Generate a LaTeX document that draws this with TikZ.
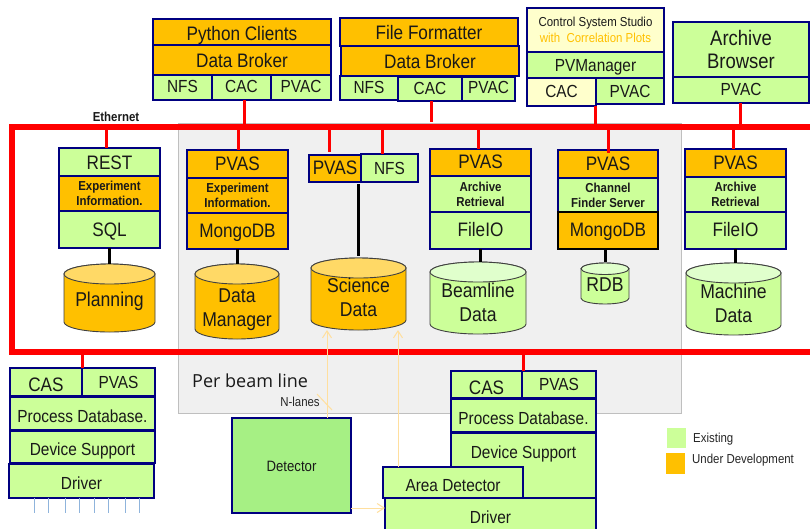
\documentclass[tikz,border=0pt]{standalone}
\usepackage{fontspec}
\setmainfont[FakeStretch=0.88]{Liberation Sans}
\newfontfamily\perfont{Open Sans}
\usetikzlibrary{arrows.meta}
\definecolor{grn}{HTML}{CCFF99}
\definecolor{org}{HTML}{FFC000}
\definecolor{navy}{HTML}{000080}
\definecolor{cream}{HTML}{FFFFCC}
\definecolor{det}{HTML}{A6F084}
\definecolor{orgtop}{HTML}{FFD966}
\definecolor{grntop}{HTML}{E0FFCC}
\definecolor{pale}{HTML}{FFDF9E}
\definecolor{busred}{HTML}{FF0000}
\definecolor{tick}{HTML}{8FB4DC}
\tikzset{
  bx/.style={draw=navy,line width=1.7pt,inner sep=0pt,outer sep=0pt,align=center,text=black!90},
  cyltext/.style={inner sep=0pt,outer sep=0pt,align=center,text=black!90},
  bus/.style={draw=busred,line width=6pt},
  drop/.style={draw=busred,line width=3pt},
  blk/.style={draw=black,line width=3pt},
  fine/.style={draw=pale,line width=1pt},
  finear/.style={fine,-{Straight Barb[length=7pt,width=9pt]}},
  tk/.style={draw=tick,line width=0.9pt},
  sA/.style={font=\fontsize{19.5}{23}\selectfont},
  sC/.style={font=\fontsize{17.5}{20}\selectfont},
  sD/.style={font=\bfseries\fontsize{13}{15}\selectfont},
  sE/.style={font=\fontsize{20}{24}\selectfont},
  lbl/.style={anchor=west,font=\fontsize{13}{15}\selectfont,text=black!85,inner sep=0pt},
}
% centre a line of text on its capitals, with an optional shift
\newcommand{\ct}[2]{\raisebox{\dimexpr-0.7ex-#1pt\relax}[0pt][0pt]{#2}}
% [shift], name, x0, y0, x1, y1, options, text (one line)
\newcommand{\bxx}[8][0]{%
  \pgfmathsetmacro{\bw}{#5-#3}\pgfmathsetmacro{\bh}{#6-#4}%
  \node[bx,#7,minimum width=\bw pt,minimum height=\bh pt] (#2) at ({(#3+#5)/2},{(#4+#6)/2}) {\ct{#1}{#8}};}
% name, x0, y0, x1, y1, options, text (several lines)
\newcommand{\bxm}[7]{%
  \pgfmathsetmacro{\bw}{#4-#2}\pgfmathsetmacro{\bh}{#5-#3}%
  \node[bx,#6,minimum width=\bw pt,minimum height=\bh pt] (#1) at ({(#2+#4)/2},{(#3+#5)/2}) {#7};}
% [text shift], name, x0, y0, x1, y1, body colour, top colour, text
\newcommand{\cyl}[9][4]{%
  \pgfmathsetmacro{\cx}{(#3+#5)/2}\pgfmathsetmacro{\rx}{(#5-#3)/2}%
  \pgfmathsetmacro{\ry}{min(10,\rx*0.24)}%
  \path[draw=black!75,line width=0.9pt,fill=#7]
    (#3,#4+\ry) -- (#3,#6-\ry) arc[start angle=180,end angle=360,x radius=\rx pt,y radius=\ry pt]
    -- (#5,#4+\ry) arc[start angle=0,end angle=180,x radius=\rx pt,y radius=\ry pt] -- cycle;
  \path[draw=black!75,line width=0.9pt,fill=#8] (\cx,#4+\ry) ellipse[x radius=\rx pt,y radius=\ry pt];
  \node[cyltext,sE] (#2) at (\cx,{(#4+#6)/2+#1}) {#9};}
\begin{document}
\begin{tikzpicture}[x=1pt,y=-1pt]
\clip (0,0) rectangle (810,528);
\fill[white] (0,0) rectangle (810,528);
% grey region
\node[draw=black!25,line width=0.8pt,fill=black!6,minimum width=503pt,minimum height=290pt,inner sep=0pt] (region) at (429.5,268) {};
\node[anchor=west,font=\perfont\fontsize{18}{20}\selectfont,text=black!90,inner sep=0pt] (perb) at (192,381) {Per beam line};

% bus anchors
\coordinate (bnw) at (12,127);
\coordinate (bne) at (812,127);
\coordinate (bsw) at (12,352);
\coordinate (bse) at (812,352);
\foreach \n/\x/\y in {u1/244/127,u2/431/122,u3/595/127,u4/740/127,d1/106/127,d2/238/127,d3/329/127,d4/382/124,d5/478/127,d6/608/127,d7/733/127,l1/82/352,l2/523/352}
  \coordinate (\n) at (\x,\y);

% Python clients
\bxx[1]{pyc}{153}{19}{331}{45}{fill=org,sA}{Python Clients}
\bxx{pyb}{153}{45}{331}{75}{fill=org,sA}{Data Broker}
\bxx[-1]{pyn}{153}{75}{212}{100}{fill=grn,sC}{NFS}
\bxx[-1]{pyk}{212}{75}{271}{100}{fill=grn,sC}{CAC}
\bxx[-1]{pyv}{271}{75}{331}{100}{fill=grn,sC}{PVAC}
% File formatter
\bxx{ffc}{340}{18}{518}{46}{fill=org,sA}{File Formatter}
\bxx{ffb}{341}{46}{519}{76}{fill=org,sA}{Data Broker}
\bxx[-1]{ffn}{340}{76}{398}{100}{fill=grn,sC}{NFS}
\bxx[-1]{ffk}{398}{77}{462}{101}{fill=grn,sC}{CAC}
\bxx[-2]{ffv}{462}{77}{515}{101}{fill=grn,sC}{PVAC}
% CSS
\bxm{css}{527}{8}{664}{52}{fill=cream,font=\fontsize{13}{15.5}\selectfont}{Control System Studio\\\textcolor{org}{with\ \ Correlation Plots}}
\bxx{pvm}{527}{52}{664}{78}{fill=grn,sC}{PVManager}
\bxx[-1]{csk}{527}{78}{596}{106}{fill=cream,sC}{CAC}
\bxx{csv}{596}{78}{664}{104}{fill=grn,sC}{PVAC}
% Archive browser
\bxm{arb}{673}{22}{809}{77}{fill=grn,font=\fontsize{21}{23}\selectfont}{Archive\\Browser}
\bxx[-1]{arv}{673}{77}{809}{103}{fill=grn,sC}{PVAC}

% column 1
\bxx{c1a}{59}{148}{160}{176}{fill=grn,sA}{REST}
\bxm{c1b}{59}{176}{160}{211}{fill=org,sD}{Experiment\\Information.}
\bxx{c1c}{59}{211}{160}{248}{fill=grn,sA}{SQL}
\cyl[3]{c1d}{64}{264}{155}{332}{org}{orgtop}{Planning}
% column 2
\bxx[-1]{c2a}{187}{150}{288}{178}{fill=org,sA}{PVAS}
\bxm{c2b}{187}{178}{288}{213}{fill=org,sD}{Experiment\\Information.}
\bxx[-1]{c2c}{187}{213}{288}{249}{fill=org,sA}{MongoDB}
\cyl[8.5]{c2d}{195}{264}{279}{339}{org}{orgtop}{Data\\Manager}
% column 3
\bxx[-1]{c3a}{309}{155}{361}{182}{fill=org,sA}{PVAS}
\bxx{c3b}{361}{154}{418}{182}{fill=grn,sC}{NFS}
\cyl[3]{c3d}{311}{258}{406}{330}{org}{orgtop}{Science\\Data}
% column 4
\bxx[-1]{c4a}{430}{149}{531}{176}{fill=org,sA}{PVAS}
\bxm{c4b}{430}{176}{531}{212}{fill=grn,sD}{Archive\\Retrieval}
\bxx[-1]{c4c}{430}{212}{531}{249}{fill=grn,sA}{FileIO}
\cyl[4.5]{c4d}{430}{262}{526}{334}{grn}{grntop}{Beamline\\Data}
% column 5
\bxx[-1]{c5a}{558}{150}{658}{178}{fill=org,sA}{PVAS}
\bxm{c5b}{558}{178}{658}{212}{fill=grn,sD}{Channel\\Finder Server}
\bxx[-1]{c5c}{558}{212}{658}{249}{fill=org,sA,draw=black}{MongoDB}
\cyl[1.5]{c5d}{581}{263}{629}{304}{grn}{grntop}{RDB}
% column 6
\bxx[-1]{c6a}{685}{149}{786}{177}{fill=org,sA}{PVAS}
\bxm{c6b}{685}{177}{786}{212}{fill=grn,sD}{Archive\\Retrieval}
\bxx[-1]{c6c}{685}{212}{786}{249}{fill=grn,sA}{FileIO}
\cyl[4]{c6d}{686}{263}{781}{335}{grn}{grntop}{Machine\\Data}

% lower-left IOC
\bxx[2]{iac}{10}{368}{82}{396}{fill=grn,sA}{CAS}
\bxx{iap}{82}{368}{155}{396}{fill=grn,sC}{PVAS}
\bxx[3]{iad}{10}{397}{155}{430}{fill=grn,sC}{Process Database.}
\bxx[2]{ias}{10}{431}{155}{463}{fill=grn,sC}{Device Support}
\bxx[2]{iav}{9}{464}{154}{498}{fill=grn,sC}{Driver}
% detector
\bxx{dett}{232}{418}{351}{513}{fill=det,font=\fontsize{15}{17}\selectfont}{Detector}
% lower-right IOC
\bxx[2.5]{ibc}{451}{371}{522}{398}{fill=grn,sA}{CAS}
\bxx{ibp}{522}{371}{596}{398}{fill=grn,sC}{PVAS}
\bxx[2.5]{ibd}{451}{399}{596}{432}{fill=grn,sC}{Process Database.}
\bxx[-13]{ibs}{451}{433}{596}{498}{fill=grn,sC}{Device Support}
\bxx{ibv}{385}{498}{596}{536}{fill=grn,sC}{Driver}
\bxx[2.5]{iba}{383}{467}{523}{498}{fill=grn,sC}{Area Detector}

% legend
\node[fill=grn,minimum width=19pt,minimum height=20pt,inner sep=0pt] (lgA) at (676,438) {};
\node[fill=org,minimum width=19pt,minimum height=21pt,inner sep=0pt] (lgB) at (675.5,463.5) {};
\node[lbl] (lgAt) at (693,439) {Existing};
\node[lbl] (lgBt) at (692,460) {Under Development};
\node[font=\bfseries\fontsize{13}{15}\selectfont,text=black!90,inner sep=0pt] (eth) at (116,117) {Ethernet};
\node[font=\fontsize{13}{15}\selectfont,text=black!85,inner sep=0pt] (nl) at (300,402) {N-lanes};

% ticks under driver
\foreach \x in {34,48,65,79,94,108,125,139}
  \draw[tk] (iav.south -| \x,0) -- ++(0,15);

% red bus
\draw[bus] (bne) -- (bnw) -- (bsw) -- (bse);
\draw[drop] (pyk.south -| u1) -- (u1);
\draw[drop] (ffk.south -| u2) -- (u2);
\draw[drop] (csk.south -| u3) -- (u3);
\draw[drop] (arv.south -| u4) -- (u4);
\draw[drop] (d1) -- (c1a.north -| d1);
\draw[drop] (d2) -- (c2a.north -| d2);
\draw[drop] (d3) -- ([yshift=3pt]c3a.north -| d3);
\draw[drop] (d4) -- (c3b.north -| d4);
\draw[drop] (d5) -- (c4a.north -| d5);
\draw[drop] (d6) -- ([yshift=-3pt]c5a.north -| d6);
\draw[drop] (d7) -- (c6a.north -| d7);
\draw[drop] (l1) -- (iac.north east -| l1);
\draw[drop] (l2) -- (ibc.north east -| l2);

% black links to data stores
\draw[blk] (c1c.south -| 109,0) -- (109,264);
\draw[blk] (c2c.south -| 237,0) -- (237,264);
\draw[blk] (358,184) -- (358,256);
\draw[blk] (c4c.south -| 480,0) -- (480,262);
\draw[blk] (c5c.south -| 605,0) -- (605,262);
\draw[blk] (c6c.south -| 735,0) -- (735,263);

% pale links
\draw[finear] (dett.north -| 327,0) -- (327,330);
\draw[finear] (iba.north -| 398,0) -- (398,330);
\draw[finear] (dett.east |- 0,508) -- (ibv.west |- 0,508);
\draw[fine] (317,394) -- (332,410);
\end{tikzpicture}
\end{document}
